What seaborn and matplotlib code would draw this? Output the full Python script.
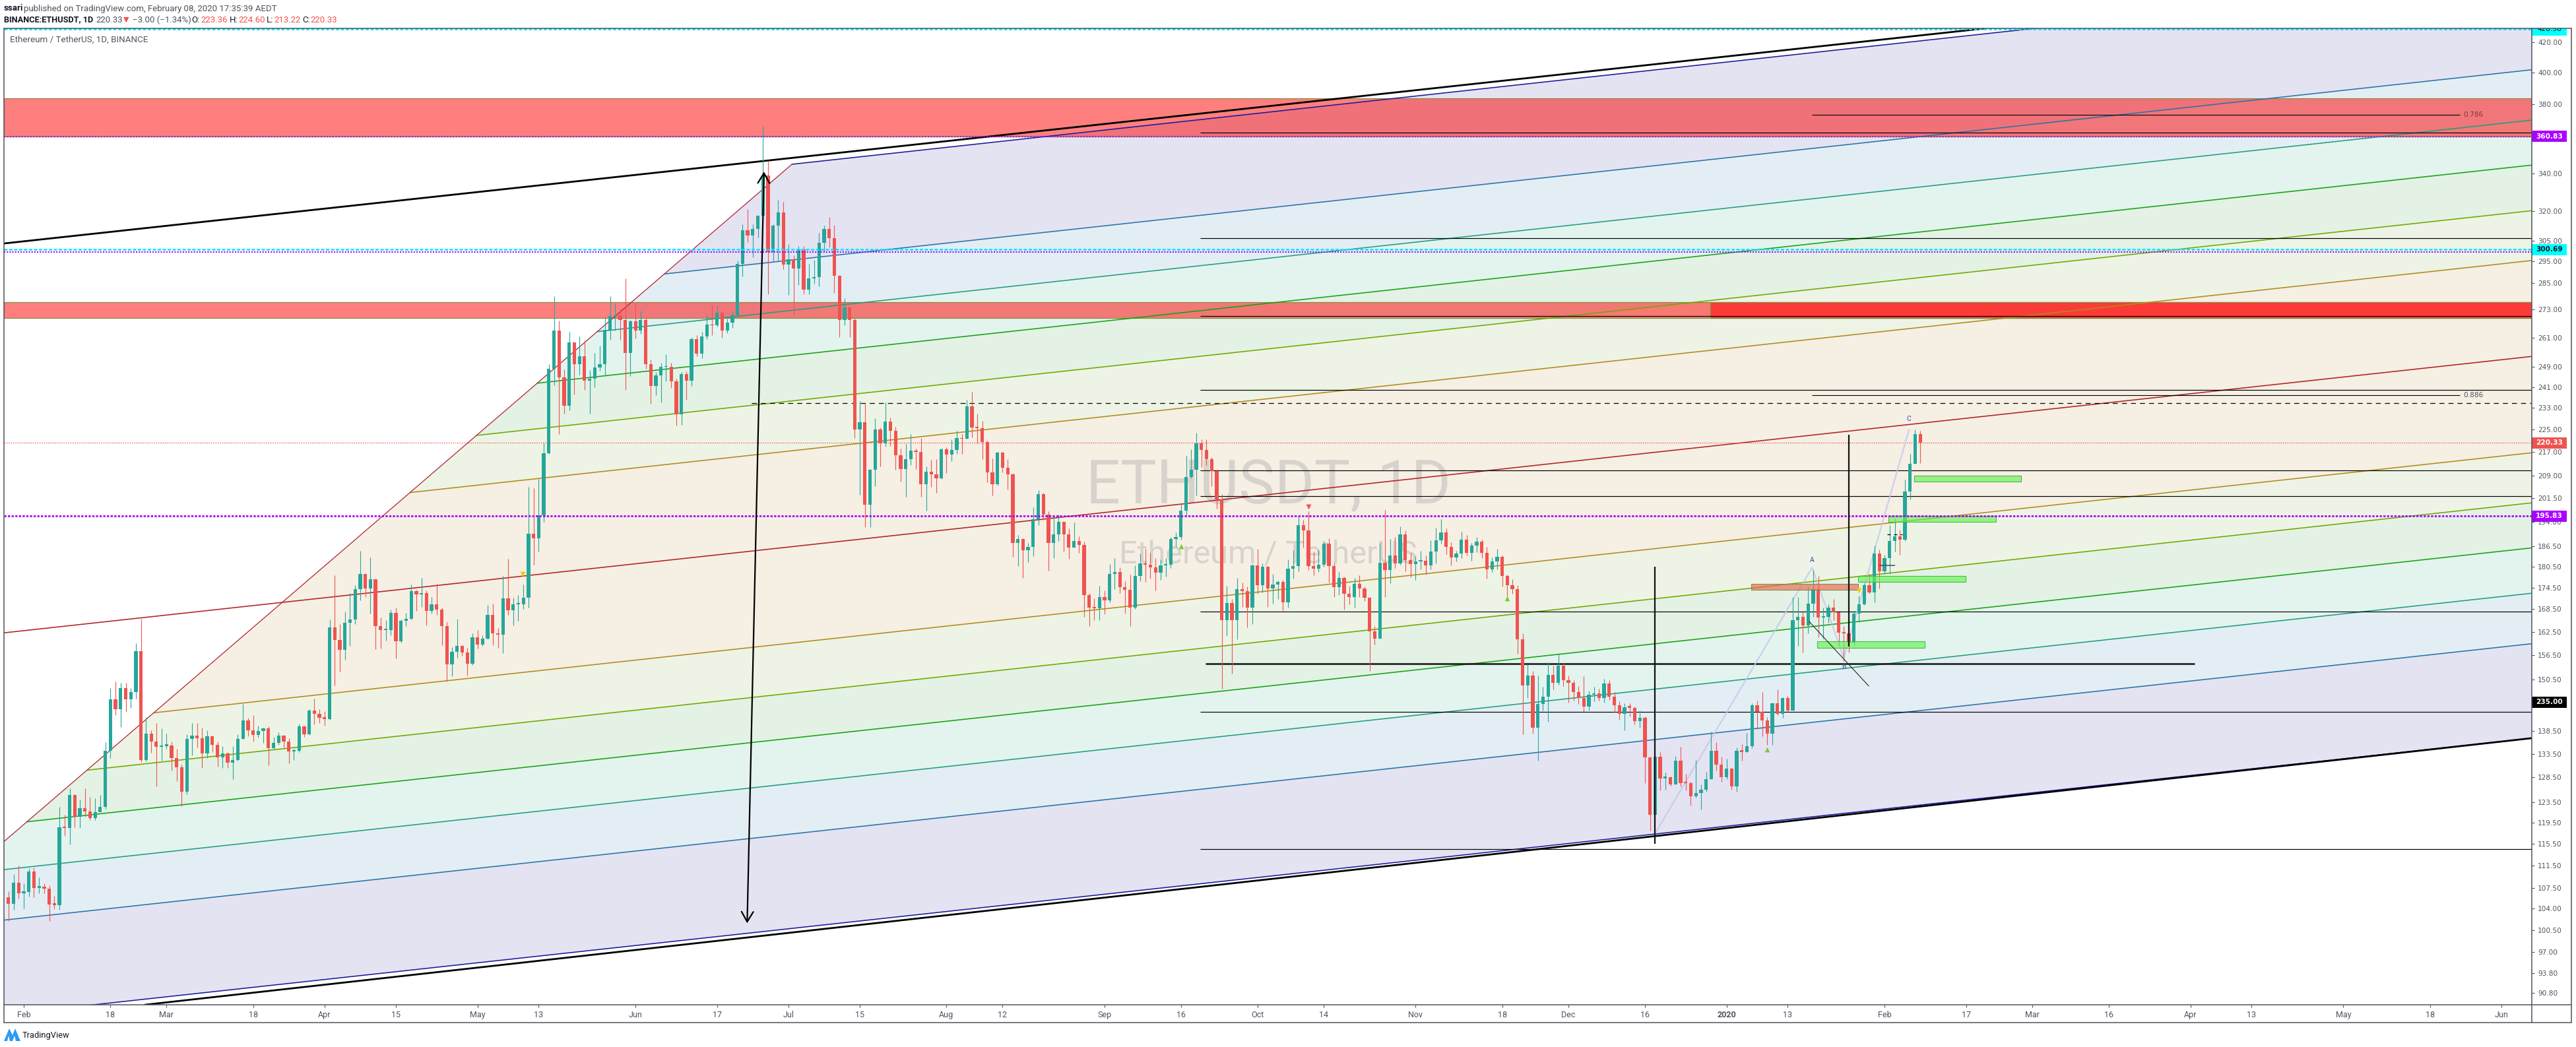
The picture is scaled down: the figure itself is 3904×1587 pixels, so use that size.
import numpy as np
import pandas as pd
import matplotlib
matplotlib.use("Agg")
import matplotlib.pyplot as plt
import matplotlib.dates as mdates
from matplotlib.lines import Line2D
from matplotlib.patches import Rectangle, Polygon
from matplotlib.transforms import Bbox, IdentityTransform
import seaborn as sns

closes = [104.8,108.5,106.6,106.9,110.4,107.5,107.8,107.4,104.7,104.6,118.6,118.4,124.9,120.6,122.3,121.6,120.3,121.5,122.6,134.2,
145.8,143.4,148.4,145.7,147.4,157.5,132.1,137.9,136.2,135,135.2,135.3,132.6,130.6,125.6,136.7,137.5,136.9,133.6,137.3,
135.4,132.7,133.6,131.6,132.2,136.7,140.9,138.6,137.6,138.5,139.1,134.7,135.9,137.4,136.1,134,134.2,139.5,137.8,143.2,
142.4,141.4,141.2,163.7,160.3,157.8,164.9,165.7,174.1,178.4,174.2,176.8,163.9,163,163,167.5,160,165.4,165.9,173.5,
172.5,172.9,168,169.9,168.4,164,154.2,157.4,158.8,157.2,154.3,161,159.2,160.7,166.9,162.1,161.7,171.4,168.2,169.8,
169.9,171.6,190.3,188.8,196,216.7,248.2,264,244.7,233.9,259,250.1,253.2,243.4,244.3,248.7,250.1,264.2,270.2,270.6,
268.5,254.5,267.8,264,268.5,250,241.5,245.7,249,249,243.2,230.7,246,243.5,260.3,254.3,261.4,266.5,266.3,271.8,
263.9,267.3,270.6,294,310.1,307.5,310.8,317.5,338.7,299.7,312.5,319.3,293.7,296,291.8,300.8,282,287,287.8,304.2,
311,306.3,288.4,268.5,274,268.5,225.1,227.8,199.3,211,225.1,220,227.9,224.5,216,211.1,214.6,217.5,217.2,206,
210.2,209.4,208,218,216.2,217.8,222.1,221.7,233.6,225.8,225.6,220.6,210,206,216.9,211.6,209.5,187.5,188.6,185.3,
186.2,194.8,202.9,196.3,187.5,190,193.9,190,186,188.1,186.8,172.4,169,168.7,171.8,171,178.3,178.9,174.6,173.9,
169,177.8,181.5,181,180.3,178.7,180.9,181,188.6,189.2,197.6,208.4,210.9,220.2,217.8,214.5,210.6,201,165.5,170.2,
165.5,174.1,173.5,168.9,180.9,175.1,180.4,174.2,175.3,176,170.4,179.9,180.7,192.9,191.4,180.7,179.9,181.1,187.2,180.6,
174.6,177.3,172.8,171.8,175.5,174.2,171.6,162.6,160.7,181.6,179.4,183.7,181.5,190,182.3,181.2,182,182.1,180.8,185,
188.2,190.7,186.2,183.2,184.4,188.5,184.6,186.7,187.8,184.6,179.6,182,183.4,177.7,175.2,174,160.6,149.1,151.5,139.3,
144.6,146.4,151.6,149.6,153.8,150.3,149.6,147.5,146,144,146.8,147.2,146,149.5,146.3,144.4,142.3,143.9,143.8,140.7,
141.4,132.7,121,132.8,128.3,128.5,127.1,132,127.4,127.3,124.7,125.3,126,128.1,134.2,131.2,128.6,130.4,126.7,134.2,
133.9,135.1,144.4,142.9,140.9,137.9,144.8,142.3,146,143.2,165.6,166.5,164.2,170,174.1,166.3,166.4,169,167.6,162.2,
162,159.7,167.4,169.8,175.2,173.2,184.3,179.2,183,188.1,189.5,188.5,203.7,213,223.36,220.33]

highs = [107,110,111.5,108.3,111,111.2,109.4,108.3,108,106.2,122.5,121,126.2,125,124,126.3,124.5,124.2,124.9,136,
148.4,150,149.6,149.7,148.4,159.5,166,141.6,138.6,140.3,139.1,137.9,136.2,134.6,131.2,137.8,140.3,140.3,139.3,138.6,
137.4,136.1,135.2,133.8,135.2,137.8,144.6,141.4,142,139.7,139.3,139.5,137.1,138.2,137.6,136.9,134.6,140.1,139.6,143.5,
145.9,143.5,143,165.7,178,164.5,167.9,172.9,175.2,185.2,178.4,183.1,176.9,166.3,165.5,168.4,169,165.8,167.5,175.4,
173.9,177.2,173.6,171.9,175.6,169,165,158.5,166,159,158.3,162,162.9,161.5,169.7,170,163.4,177.7,182.8,171.6,
172.3,175.3,205.2,204.7,207.9,220.2,250.1,279,268.3,248,263.4,259,261.6,259.8,247.6,254.5,257.6,269.6,279,275.6,
273.5,287,268.5,275.6,272.4,269.6,252,247,250.7,254,250.7,244.2,247,247.2,261.2,262,263.3,270.9,275.3,274.8,
272,269.2,272.6,295.4,313.4,321,313.4,318,367,347,313.4,325.9,324.8,303.5,298,302.3,302.3,294,295.8,308.8,
312.7,317,313,288.6,278,274,269.3,235.7,234.6,211.2,229.2,225.9,235,229.4,226,218.2,219.8,223.4,218.2,222.1,
212,214.4,214.6,218.4,218.8,221.5,224.7,223.3,236.2,239.1,231,228.2,221,214.7,217.2,217.2,214.5,209.9,189.9,188.9,
187.5,198.6,204.2,203.3,197.2,195.8,196.3,194,192,193.7,189.4,187.8,173,171.4,175,173.6,181.2,183,180.3,176.2,
178.2,180.9,184.3,185.6,184.5,183,182.5,182.9,189.2,190.7,199.8,215.8,218,224,221.5,221.5,215.2,211,202.8,175,
171.3,177.2,175.9,174.8,181.3,185.6,181.4,180.7,178.4,176.4,176.6,182.5,185.4,196,194.6,197.3,184.9,185.3,188,188.9,
181.6,179,177.5,175,177.2,178,174.7,171.8,164,187.5,197.7,188.6,189.2,192.5,191.4,184.6,183.6,185.2,183.8,188.2,
192.2,194.7,191.9,187.7,185.2,191,189.8,187.4,189.3,188.4,186.2,183.2,185.7,183.8,178.1,176.8,175.1,162.1,154.2,152.5,
151.4,148.7,154.7,153.8,157,154.7,151.5,150.3,148.8,151.2,147.8,148.7,148.3,150.6,150.3,147.4,145.2,144.8,144.8,144.1,
143.1,141.7,132.9,134.8,133.9,129.5,128.7,133,135,129.2,127.6,132.2,127,129.6,138.4,136,132.8,132.5,130.5,134.9,
135.6,138,144.8,145.4,147.5,141.6,145,148.1,146.2,146.5,171.9,171.9,167.6,174.8,179.4,177.8,169,169.8,171.3,167.7,
164,164,167.6,172.2,175.8,178.3,186.7,185.5,184,193,195,191.5,207.6,216.3,225,224.6]

lows = [102,103.8,105.7,104,106.1,105.9,106.6,106.6,102,103.9,103.8,117,115.3,118.6,118.5,120.6,120,120,121.5,122.2,
132.6,142.1,139.4,142.8,143.7,145.9,131.8,131.9,133.7,126.6,132,134.6,130,127.7,122.7,125,133.1,134.8,130.5,132.6,
133.8,130.8,130.5,130.5,128.2,132,136.7,137.3,136.2,137,135.8,131,134.4,135.5,134.8,131.4,132.1,133.9,137.2,137.6,
140,140.3,139.7,141,149,152.4,155.3,158.8,164.5,171,171.8,167.3,158,158.2,160.2,161.5,155.7,159.7,164,165.7,
168,169.2,164.2,167.3,167,159,150,151.2,155.8,156.3,151.4,154.1,158.2,158.9,160.5,159,158.3,157,167,164.2,
165.4,168.6,169,181,184.9,194,216.3,241.6,223.5,231,232.2,238,245.9,239.8,230.8,241,247.4,245.2,260.1,264,
260,240,245.4,260.5,262.6,248.2,234.5,237.8,235,243.2,240.6,226.5,226.8,236.2,241.4,253.3,252.4,260.4,262,265.8,
260.8,262.9,265,270.6,288,304.5,297,306.8,315,280,295,295.6,291.3,279.6,270.5,284,280,279.8,284.8,283.5,
299.7,301.7,280.5,261.2,266.2,261.2,222,202.6,192.3,192.3,205.4,212,219,219.1,211,207,201.9,212.6,211.1,201.9,
197.4,205.3,203.2,207.8,209.8,213.8,216.5,216.3,221.7,222.2,220.2,214.5,206.7,202.4,205.7,210.1,204.3,183.3,180.6,177.2,
181.8,183.6,193,194.6,179.3,183,188.1,185,182.7,186,184.6,166.5,163.9,165.6,165.6,167.2,170.3,174,172.9,167.4,
164,168.5,176.2,176,177.1,173.6,176.6,177.5,180,186.3,188.5,195.9,208.1,202.3,211.8,212.5,205.5,198.2,148.2,161.4,
151.9,160.5,169.1,163.6,164.5,172.7,173.1,169.1,170.1,171.3,168.1,169,177.1,179.1,186.1,179.5,177.9,178.9,180.4,175.9,
171.9,172.3,168.4,169.8,169,171.9,170.7,152.5,159.1,160.7,171.9,175.8,180,181,179.1,177.4,176.6,179.7,178.1,179.7,
181.4,187.3,184.1,180.9,182,182.9,183.7,182.2,184.8,183,177,178.9,179.7,174.7,172.1,172.7,156.9,137.7,146,137.9,
132,143.2,140.5,148.1,149.2,148.8,145,145.4,144.6,142.9,143.2,145.2,145.5,145,145.6,142.7,141,138.6,141.7,140,
139.3,127.4,118,116,125.9,126,126.8,127,126.6,125.9,122.8,124.4,122,125.6,128.1,130,127.6,128.2,126,125.6,
132,133.8,134.7,138.9,137.3,135.4,135.4,142,141.5,142.8,143.1,158.9,157.2,162,166.5,161.1,160.7,164.8,165.6,158.8,
155,157.2,158.8,165.1,169.7,172.7,170.4,174.3,178.4,178.4,185,184,188,201.1,213,213.22]

first_open = 106.0

y_tick_values = [420,400,380,340,320,305,295,285,273,261,249,241,233,225,217,209,201.5,194,186.5,180.5,174.5,168.5,162.5,156.5,
                 150.5,144.5,138.5,133.5,128.5,123.5,119.5,115.5,111.5,107.5,104,100.5,97,93.8,90.8]
x_tick_dates = ["2019-02-01","2019-02-18","2019-03-01","2019-03-18","2019-04-01","2019-04-15","2019-05-01","2019-05-13","2019-06-01",
                "2019-06-17","2019-07-01","2019-07-15","2019-08-01","2019-08-12","2019-09-01","2019-09-16","2019-10-01","2019-10-14",
                "2019-11-01","2019-11-18","2019-12-01","2019-12-16","2020-01-01","2020-01-13","2020-02-01","2020-02-17","2020-03-01",
                "2020-03-16","2020-04-01","2020-04-13","2020-05-01","2020-05-18","2020-06-01"]
x_tick_labels = ["Feb","18","Mar","18","Apr","15","May","13","Jun","17","Jul","15","Aug","12","Sep","16","Oct","14","Nov","18","Dec",
                 "16","2020","13","Feb","17","Mar","16","Apr","13","May","18","Jun"]

# Fib channel: price of each level on the right edge, top to bottom
fib_prices = [468.8,401.8,370.5,344.6,320.2,295.5,253.2,216.8,200.0,186.0,172.9,159.4,136.9]
fib_line_colors = ["#1a1a9c","#2a72a8","#1f9e80","#13a313","#6fa800","#b38a1a","#b22222","#b38a1a","#6fa800","#13a313","#1f9e80","#2a72a8","#1a1a9c"]
fib_zone_colors = ["#E4E3F2","#E3EEF4","#E3F4EE","#E3F2E5","#EEF4E5","#F5EFE4","#F5EFE4","#EEF4E5","#E3F2E5","#E3F4EE","#E3EEF4","#E4E3F2"]

black_levels = [363.0,306.2,270.3,239.9,210.8,202.2,167.8,142.9,114.5]
green_boxes = [(370.8,391.8,207.0,209.0),(365.8,386.9,194.0,195.83),(359.8,380.9,176.1,177.7),(351.8,372.9,158.4,160.1)]
price_boxes = [(360.83,"#AA00FF","white"),(300.69,"#00FFFF","#131722"),(220.33,"#EF5350","white"),(195.83,"#AA00FF","white"),(145.1,"#000000","white")]
price_box_text = ["360.83","300.69","220.33","195.83","235.00"]

sns.set_theme(style="white")
plt.rcParams["font.family"] = ["Roboto", "DejaVu Sans"]
plt.rcParams["axes.unicode_minus"] = False

W, H = 3904, 1587
fig = plt.figure(figsize=(W/100, H/100), dpi=100, facecolor="white")
ax = fig.add_axes([6/W, (H-1523)/H, 3831/W, 1480/H])
ax.set_facecolor("white")
ax.set_yscale("log")

ORIGIN = mdates.date2num(pd.Timestamp("2019-02-01"))
def dx(d):
    return ORIGIN + np.asarray(d, dtype=float)

dates = pd.date_range(end="2020-02-08", periods=len(closes))
x = mdates.date2num(dates)
closes_a = np.array(closes); highs_a = np.array(highs); lows_a = np.array(lows)
opens_a = np.r_[first_open, closes_a[:-1]]
df = pd.DataFrame({"x": x, "o": opens_a, "h": highs_a, "l": lows_a, "c": closes_a})

XL, XR = -3.88, 491.96
ax.set_xlim(dx(XL), dx(XR))
ax.set_ylim(89.1, 429.5)

# Fib channel geometry in (day, log price)
SLOPE = 0.000898
diag_d = np.array([-3.88, 150.66]); diag_p = np.log([115.9, 345.0])
b = (diag_p[1]-diag_p[0])/(diag_d[1]-diag_d[0]); a = diag_p[0]-b*diag_d[0]
def level_at(pR, d):
    return np.exp(np.log(pR) + SLOPE*(np.asarray(d)-XR))
def meet(pR):
    d = (np.log(pR) - SLOPE*XR - a)/(b-SLOPE)
    return d
meets = [meet(p) for p in fib_prices]

for i, col in enumerate(fib_zone_colors):
    p1, p2 = fib_prices[i], fib_prices[i+1]
    d1, d2 = meets[i], meets[i+1]
    verts = [(dx(d1), level_at(p1, d1)), (dx(XR), p1), (dx(XR), p2), (dx(d2), level_at(p2, d2))]
    ax.add_patch(Polygon(verts, closed=True, fc=col, ec="none", zorder=1))

# red bands
for p_lo, p_hi, d0 in [(360.83,383.9,XL),(269.3,276.4,XL),(269.3,276.4,330.8)]:
    ax.add_patch(Rectangle((dx(d0), p_lo), dx(XR)-dx(d0), p_hi-p_lo, fc=(1,0,0,0.5), ec="#8a8a40", lw=0.9, zorder=2))

# watermark
ax.text(dx(244.1), 205.2, "ETHUSDT, 1D", fontsize=66, color="#50535e", alpha=0.18, ha="center", va="center", zorder=2.2)
ax.text(dx(244.1), 184.0, "Ethereum / TetherUS", fontsize=35, color="#50535e", alpha=0.18, ha="center", va="center", zorder=2.2)

# channel lines
for i, (pR, col) in enumerate(zip(fib_prices, fib_line_colors)):
    d0 = XL if pR == 253.2 else max(meets[i], XL - 30)
    sns.lineplot(x=dx([d0, XR]), y=[level_at(pR, d0), pR], color=col, linewidth=1.15, ax=ax,
                 estimator=None, sort=False, zorder=2.5, legend=False)
sns.lineplot(x=dx([diag_d[0], diag_d[1]]), y=np.exp(diag_p), color="#b22234", linewidth=0.9, ax=ax,
             estimator=None, sort=False, zorder=2.5, legend=False)
sns.lineplot(x=dx([XL, 384.7]), y=[420*np.exp(-(369-64)/941), 420*np.exp((64-43)/941)], color="black", linewidth=2.0, ax=ax,
             estimator=None, sort=False, zorder=4, legend=False)
sns.lineplot(x=dx([23.8, XR]), y=[420*np.exp(-(1523-64)/941), 136.9], color="black", linewidth=2.0, ax=ax,
             estimator=None, sort=False, zorder=4, legend=False)

# horizontal levels
for lv in black_levels:
    ax.hlines(lv, dx(230.8), dx(XR), color="black", lw=0.85, zorder=4)
ax.hlines(154.4, dx(231.8), dx(425.8), color="#111111", lw=2.0, alpha=0.9, zorder=4)
ax.hlines(373.5, dx(350.8), dx(477.9), color="black", lw=0.8, zorder=4)
ax.hlines(237.8, dx(350.8), dx(477.9), color="black", lw=0.8, zorder=4)
ax.hlines(234.8, dx(142.8), dx(XR), color="black", lw=0.9, linestyles=(0, (6, 5)), zorder=4)
ax.hlines(190.0, dx(365.5), dx(368.5), color="black", lw=0.9, linestyles=(0, (4, 4)), zorder=7)
ax.hlines(180.9, dx(364.0), dx(367.0), color="#50535e", lw=1.2, zorder=7)
ax.text(dx(478.5), 373.5, "0.786", fontsize=7.6, family="DejaVu Sans", color="#7a3a3a", va="center", zorder=5)
ax.text(dx(478.5), 237.8, "0.886", fontsize=7.6, family="DejaVu Sans", color="#50535e", va="center", zorder=5)

# candles
up = df["c"] >= df["o"]
for mask, col in [(up, "#26A69A"), (~up, "#EF5350")]:
    part = df[mask]
    ax.vlines(part["x"], part["l"], part["h"], color=col, lw=0.8, zorder=5)
    ax.bar(part["x"], (part["c"]-part["o"]).abs().clip(lower=0.35), bottom=part[["o","c"]].min(axis=1),
           width=0.68, color=col, edgecolor="none", zorder=5.1)

# dotted horizontal rays
ax.axhline(428.98, color="#00E5FF", lw=1.8, ls=(0, (2, 1)), zorder=6)
ax.axhline(299.7, color="#AA00FF", lw=1.5, ls=(0, (1, 1)), zorder=6)
ax.axhline(300.69, color="#00E5FF", lw=1.8, ls=(0, (2, 1)), zorder=6.1)
ax.axhline(360.83, color="#AA00FF", lw=1.6, ls=(0, (1, 1)), alpha=0.8, zorder=6)
ax.axhline(195.83, color="#AA00FF", lw=2.0, ls=(0, (1.2, 0.8)), zorder=6)
ax.axhline(220.33, color="#EF5350", lw=0.8, ls=(0, (1.5, 1.5)), zorder=4)

# rectangles
for d0, d1, lo, hi in green_boxes:
    ax.add_patch(Rectangle((dx(d0), lo), d1-d0, hi-lo, fc=(0.40, 0.95, 0.33, 0.65), ec="#4ab84a", lw=0.8, zorder=5.5))
ax.add_patch(Rectangle((dx(338.9), 173.8), 20.9, 1.7, fc=(0.92, 0.40, 0.33, 0.65), ec="#8a8a40", lw=0.8, zorder=5.5))

# verticals and arrows
vertical_d = [320.0, 358.0]; vertical_lo = [115.5, 158.6]; vertical_hi = [180.4, 223.2]
for d, lo, hi, in zip(vertical_d, vertical_lo, vertical_hi):
    ax.vlines(dx(d), lo, hi, color="#111111", lw=1.6, zorder=6.5)
ax.annotate("", xy=(dx(141.9), 101.6), xytext=(dx(145.2), 341.0),
            arrowprops=dict(arrowstyle="<->,head_length=0.55,head_width=0.32", lw=1.6, color="black",
                            shrinkA=0, shrinkB=0, mutation_scale=20), zorder=6.5)
sns.lineplot(x=dx([350.2, 361.9]), y=[165.2, 148.9], color="#222222", linewidth=0.8, ax=ax,
             estimator=None, sort=False, zorder=6.5, legend=False)

# ABC pattern
abc_d = [320.0, 350.8, 357.0, 369.8]
abc_p = [117.4, 180.2, 155.8, 225.0]
sns.lineplot(x=dx(abc_d), y=abc_p, color="#c6c6ee", linewidth=1.6, alpha=0.8, ax=ax,
             estimator=None, sort=False, zorder=4.5, legend=False)
for lab, d, p in [("A", 350.8, 182.3), ("B", 357.0, 153.5), ("C", 369.8, 229.0)]:
    ax.text(dx(d), p, lab, color="#3f3fb0", fontsize=7.5, ha="center", va="center", zorder=7)

# triangle markers
marks = pd.DataFrame({"x": dx([97.9, 360.0, 227.0, 291.0, 342.0, 252.0]),
                      "y": [178.4, 173.6, 186.5, 171.4, 134.4, 198.8],
                      "m": ["v", "v", "^", "^", "^", "v"],
                      "c": ["#F5C800", "#F5C800", "#7CCB3F", "#7CCB3F", "#7CCB3F", "#EF5350"]})
for _, r in marks.iterrows():
    sns.scatterplot(x=[r["x"]], y=[r["y"]], marker=r["m"], color=r["c"], s=32, linewidth=0, ax=ax, zorder=7, legend=False)

# axes
for s in ax.spines.values():
    s.set_visible(False)
ax.yaxis.tick_right()
ax.minorticks_off()
ax.set_yticks(y_tick_values)
ax.set_yticklabels([f"{v:.2f}" for v in y_tick_values], fontsize=7.6, color="#50535e", family="DejaVu Sans")
ax.tick_params(axis="y", which="major", right=True, left=False, length=3, width=0.8, color="#50535e", pad=3.5)
ax.yaxis.set_minor_locator(matplotlib.ticker.NullLocator())
ax.set_xticks(mdates.date2num(pd.to_datetime(x_tick_dates)))
ax.set_xticklabels(x_tick_labels, fontsize=9.0, color="#50535e")
ax.tick_params(axis="x", which="major", bottom=True, length=3, width=0.8, color="#50535e", pad=3.5)
for lbl in ax.get_xticklabels():
    if lbl.get_text() == "2020":
        lbl.set_fontweight("bold")
ax.set_xlabel(""); ax.set_ylabel("")

# price boxes
box_w = 53/3831
ytrans = ax.get_yaxis_transform()
for (p, fc, tc), txt in zip(price_boxes, price_box_text):
    f = np.exp(8.5/941)
    ax.add_patch(Rectangle((1.0, p/f), box_w, p*f-p/f, transform=ytrans, fc=fc, ec="none", clip_on=False, zorder=20))
    ax.text(1.0+26.5/3831, p, txt, transform=ytrans, color=tc, fontsize=7.6, fontweight="bold", family="DejaVu Sans",
            ha="center", va="center", clip_on=False, zorder=21)
# clipped top label
p0, p1 = 420*np.exp(-(53.6-64)/941), 429.5
ax.add_patch(Rectangle((1.0, p0), box_w, p1-p0, transform=ytrans, fc="#00FFFF", ec="none", clip_on=False, zorder=20))
t = ax.text(1.0+26.5/3831, 428.98, "428.98", transform=ytrans, color="#131722", fontsize=7.6, family="DejaVu Sans",
            ha="center", va="center", zorder=21)
t.set_clip_on(True)
t.set_clip_box(Bbox([[3837, H-54], [3890, H-43]]))

# frame
def hline(y, x0, x1, lw=1.1):
    fig.add_artist(Line2D([x0/W, x1/W], [1-y/H, 1-y/H], color="#50535e", lw=lw, zorder=30))
def vline(x0, y0, y1, lw=1.1):
    fig.add_artist(Line2D([x0/W, x0/W], [1-y0/H, 1-y1/H], color="#50535e", lw=lw, zorder=30))
hline(43, 6, 3897); hline(1523, 6, 3897); hline(1550, 6, 3897)
vline(6, 43, 1550); vline(3837, 43, 1550); vline(3897, 43, 1550)

def ptext(x0, y, s, **kw):
    kw.setdefault("fontsize", 9.5); kw.setdefault("color", "#131722"); kw.setdefault("va", "center")
    fig.text(x0/W, 1-y/H, s, **kw)

ptext(6, 13, "ssari", fontweight="bold")
ptext(36.5, 13, "published on TradingView.com, February 08, 2020 17:35:39 AEDT", color="#50535e")
ptext(6, 30, "BINANCE:ETHUSDT, 1D", fontweight="bold", fontsize=9.2)
ptext(145, 30, "220.33", color="#50535e")
ptext(187, 30, "\u25BC", color="#EF5350", family="DejaVu Sans", fontsize=8)
ptext(201, 30, "\u22123.00 (\u22121.34%)", color="#50535e", family=["Roboto", "DejaVu Sans"])
for xp, lab, xv, val in [(290, "O:", 304, "223.36"), (347.5, "H:", 361, "224.60"), (404, "L:", 415, "213.22"), (458.5, "C:", 470, "220.33")]:
    ptext(xp, 30, lab)
    ptext(xv, 30, val, color="#EF5350")
ptext(15, 60, "Ethereum / TetherUS, 1D, BINANCE", fontsize=9.6, color="#50535e")
ptext(34, 1569, "TradingView", fontsize=9.3, color="#131722")

# logo
logo = [(6,1578),(14,1559),(19,1569),(23,1559),(31,1578),(24,1578),(22,1570),(19,1578),(15,1578),(13,1570),(11,1578)]
fig.add_artist(Polygon([(a_/W, 1-b_/H) for a_, b_ in logo], closed=True, fc="#2E9BF0", ec="none", transform=fig.transFigure))

fig.savefig("out.png", dpi=100, facecolor="white")
